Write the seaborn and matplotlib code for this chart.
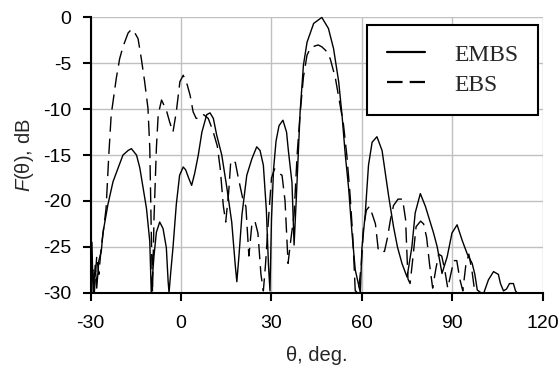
import matplotlib

matplotlib.use("Agg")
import matplotlib.pyplot as plt
import pandas as pd
import seaborn as sns

# angle (deg) / level (dB)
embs_theta = [
    -30.0, -29.6, -29.2, -28.5, -28.0, -27.3, -26.5, -25.9, -24.3, -22.6,
    -20.9, -19.3, -17.6, -16.5, -14.8, -13.7, -12.6, -11.5, -10.4, -9.9,
    -9.0, -8.2, -7.1, -6.0, -4.9, -4.3, -4.0, -3.5, -2.7, -1.6,
    -0.5, 0.7, 1.5, 2.5, 3.5, 4.5, 5.7, 6.9, 8.5, 9.6,
    10.7, 11.8, 13.5, 15.2, 16.8, 18.0, 18.5, 19.2, 20.2, 21.8,
    23.5, 25.1, 26.2, 27.3, 28.3, 29.0, 29.5, 30.0, 30.7, 31.5,
    32.5, 33.8, 35.0, 35.6, 36.8, 37.5, 38.2, 39.5, 40.6, 41.8,
    44.0, 46.7, 48.9, 50.6, 52.3, 53.4, 54.5, 55.6, 56.7, 57.8,
    59.5, 60.0, 61.1, 62.2, 63.4, 65.0, 66.7, 68.9, 70.5, 71.8,
    73.3, 75.0, 76.6, 77.7, 79.4, 81.1, 82.4, 83.8, 85.0, 86.6,
    88.3, 89.9, 91.6, 93.3, 95.0, 96.6, 97.5, 98.3, 99.5, 100.5,
    102.0, 103.7, 105.3, 106.0, 107.0, 108.0, 109.0, 110.3, 111.0, 111.5,
]
embs_level = [
    -30.0, -24.5, -30.0, -27.0, -29.5, -26.5, -25.5, -23.4, -20.4, -17.9,
    -16.4, -15.0, -14.5, -14.3, -15.0, -16.4, -18.6, -20.8, -24.4, -30.0,
    -26.0, -23.4, -22.3, -23.0, -25.1, -28.8, -30.0, -28.0, -25.1, -20.4,
    -17.2, -16.3, -16.6, -17.5, -18.3, -17.0, -15.0, -12.5, -10.6, -10.4,
    -11.0, -12.8, -15.0, -18.6, -22.3, -27.1, -28.8, -26.0, -21.5, -17.2,
    -15.4, -14.1, -14.5, -16.1, -21.0, -27.0, -29.8, -22.0, -16.5, -13.5,
    -11.8, -11.2, -12.5, -14.5, -18.0, -24.8, -20.0, -10.3, -5.2, -2.7,
    -0.65, 0.0, -1.2, -3.4, -7.0, -10.6, -15.0, -18.6, -23.4, -27.5,
    -30.0, -25.2, -21.5, -16.1, -13.6, -13.0, -14.5, -19.5, -22.8, -25.0,
    -26.8, -28.3, -25.0, -21.3, -19.2, -20.6, -22.0, -23.5, -25.0, -27.9,
    -26.1, -23.5, -22.6, -24.3, -25.8, -26.8, -28.0, -29.7, -30.0, -30.0,
    -28.6, -27.7, -28.0, -29.0, -29.8, -29.6, -29.0, -29.0, -29.8, -30.0,
]

ebs_theta = [
    -30.0, -29.3, -28.8, -28.0, -27.3, -26.5, -25.7, -24.9, -24.0, -23.2,
    -21.5, -20.4, -19.3, -17.6, -16.5, -15.5, -14.3, -13.2, -12.1, -11.0,
    -10.4, -9.9, -9.5, -9.0, -8.2, -7.6, -6.5, -4.9, -3.8, -2.7,
    -1.6, -0.4, 0.7, 2.0, 3.0, 4.0, 5.0, 6.0, 7.5, 9.0,
    10.5, 12.0, 13.0, 14.0, 14.8, 15.8, 16.5, 18.0, 19.0, 20.5,
    21.5, 22.5, 23.5, 24.5, 25.5, 26.5, 27.3, 28.0, 29.0, 30.0,
    31.0, 32.5, 33.5, 34.5, 35.5, 36.5, 37.5, 38.5, 39.5, 40.6,
    41.8, 43.0, 44.5, 45.5, 46.7, 48.0, 49.5, 51.2, 52.8, 53.9,
    55.0, 56.1, 57.0, 57.8, 58.8, 59.8, 60.5, 61.5, 62.5, 63.5,
    64.5, 65.5, 66.5, 67.5, 68.5, 69.5, 70.5, 72.0, 73.5, 74.5,
    75.3, 76.0, 77.0, 78.0, 79.5, 80.5, 81.5, 82.5, 83.5, 84.5,
    85.5, 86.5, 87.5, 88.5, 89.5, 90.5, 91.5, 92.5, 93.5, 94.5,
    95.5, 96.5, 97.5,
]
ebs_level = [
    -30.0, -27.5, -30.0, -26.0, -28.0, -25.0, -23.0, -20.8, -15.0, -10.6,
    -6.6, -4.5, -3.2, -1.7, -1.3, -1.6, -2.3, -4.5, -7.0, -9.9,
    -14.2, -23.4, -30.0, -22.0, -14.2, -10.6, -9.0, -10.1, -11.4, -12.5,
    -10.3, -7.0, -6.3, -7.3, -8.5, -10.3, -11.0, -11.0, -10.6, -11.0,
    -12.3, -14.0, -16.5, -20.5, -22.3, -19.0, -15.6, -15.8, -17.5, -19.8,
    -20.6, -26.0, -22.5, -22.2, -23.5, -28.0, -29.8, -27.0, -22.0, -17.5,
    -16.5, -17.0, -17.2, -20.0, -26.8, -24.0, -21.5, -15.0, -10.5, -6.5,
    -4.1, -3.3, -3.1, -3.0, -3.2, -3.6, -4.5, -6.6, -9.6, -11.7,
    -15.0, -19.4, -24.0, -29.8, -30.0, -27.0, -23.0, -21.0, -20.6, -21.5,
    -22.5, -25.5, -25.5, -25.5, -24.0, -22.0, -20.5, -19.8, -19.8, -22.0,
    -28.5, -29.0, -26.0, -22.8, -22.2, -22.5, -24.0, -27.0, -29.5, -27.5,
    -25.8, -26.0, -27.5, -29.5, -28.0, -26.5, -26.5, -28.5, -29.8, -27.0,
    -25.8, -27.5, -30.0,
]

x_ticks = [-30, 0, 30, 60, 90, 120]
y_ticks = [-30, -25, -20, -15, -10, -5, 0]

embs = pd.DataFrame({"theta": embs_theta, "level": embs_level})
ebs = pd.DataFrame({"theta": ebs_theta, "level": ebs_level})

sns.set_style("ticks")
plt.rcParams["font.family"] = ["Liberation Sans", "DejaVu Sans"]
plt.rcParams["axes.unicode_minus"] = False
plt.rcParams["mathtext.fontset"] = "custom"
plt.rcParams["mathtext.it"] = "Liberation Sans:italic"
plt.rcParams["mathtext.rm"] = "Liberation Sans"

fig = plt.figure(figsize=(5.6, 3.71), dpi=100)
ax = fig.add_axes([0.162, 0.211, 0.807, 0.742])

sns.lineplot(data=embs, x="theta", y="level", color="black", linewidth=1.0,
             estimator=None, sort=False, label="EMBS", clip_on=False, ax=ax)
sns.lineplot(data=ebs, x="theta", y="level", color="black", linewidth=1.0,
             linestyle=(0, (11, 5)), estimator=None, sort=False, label="EBS",
             clip_on=False, ax=ax)

ax.set_xlim(-30, 120)
ax.set_ylim(-30, 0)
ax.set_xticks(x_ticks)
ax.set_yticks(y_ticks)
ax.grid(True, color="#c0c0c0", linewidth=1.0)
ax.set_axisbelow(True)
for side in ["top", "right"]:
    ax.spines[side].set_visible(False)
for side in ["left", "bottom"]:
    ax.spines[side].set_color("black")
    ax.spines[side].set_linewidth(1.5)
ax.tick_params(direction="out", length=6, width=1.5, labelsize=14, colors="black")
ax.tick_params(axis="x", pad=10)
ax.tick_params(axis="y", pad=8)

ax.set_xlabel("θ, deg.", fontsize=14.5, labelpad=10)
ax.set_ylabel(r"$\mathit{F}$(θ), dB", fontsize=14.5, labelpad=5)

leg = ax.legend(loc="upper left", bbox_to_anchor=(0.612, 0.973), borderaxespad=0,
                frameon=True, fancybox=False, edgecolor="black", framealpha=1,
                prop={"family": "Liberation Serif", "size": 17},
                handlelength=1.62, handletextpad=1.25, borderpad=0.82, labelspacing=0.35)
leg.get_frame().set_linewidth(1.5)
solid_handle, dashed_handle = leg.legend_handles
solid_handle.set_linewidth(1.6)
dashed_handle.set_linewidth(1.6)
dashed_handle.set_linestyle((0, (7, 3.2)))

fig.savefig("out.png", dpi=100)
plt.close(fig)
